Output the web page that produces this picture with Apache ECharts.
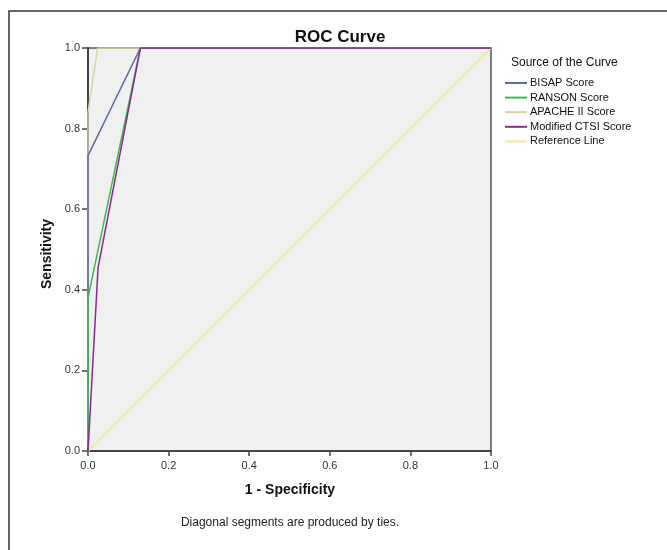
<!DOCTYPE html>
<html><head><meta charset="utf-8">
<script src="https://cdn.jsdelivr.net/npm/echarts@6/dist/echarts.min.js"></script>
<style>html,body{margin:0;padding:0;background:#fff}#c{width:667px;height:550px}</style>
</head><body><div id="c"></div>
<script>
const seriesNames = ["BISAP Score","RANSON Score","APACHE II Score","Modified CTSI Score","Reference Line"];
const bisapX = [0, 0, 0.13, 1];
const bisapY = [0, 0.733, 1, 1];
const ransonX = [0, 0, 0.13, 1];
const ransonY = [0, 0.38, 1, 1];
const apacheX = [0, 0, 0.024, 1];
const apacheY = [0, 0.84, 1, 1];
const ctsiX = [0, 0.025, 0.13, 1];
const ctsiY = [0, 0.455, 1, 1];
const refX = [0, 1];
const refY = [0, 1];
const tickValues = [0.0, 0.2, 0.4, 0.6, 0.8, 1.0];

const colors = ["#5a6aa6", "#3dbb4a", "#d9d3a6", "#8a2a8c", "#efeb95"];
const xs = [bisapX, ransonX, apacheX, ctsiX, refX];
const ys = [bisapY, ransonY, apacheY, ctsiY, refY];
const order = [4, 2, 0, 1, 3];
const font = "'Liberation Sans', Arial, sans-serif";

const series = order.map(i => ({
  name: seriesNames[i], type: 'line', symbol: 'none', z: 3,
  lineStyle: { color: colors[i], width: i === 4 ? 2 : 1.5 }, itemStyle: { color: colors[i] },
  data: xs[i].map((x, k) => [x, ys[i][k]]), animation: false
}));

const chart = echarts.init(document.getElementById('c'), null, { renderer: 'canvas' });
chart.setOption({
  animation: false,
  backgroundColor: '#fff',
  grid: { left: 88, top: 48, width: 403, height: 403, show: true, backgroundColor: '#f0f0f0', borderColor: '#555', borderWidth: 1.5 },
  xAxis: { type: 'value', min: 0, max: 1, interval: 0.2,
    axisLine: { show: true, lineStyle: { color: '#444', width: 2 } },
    axisTick: { show: true, length: 5, lineStyle: { color: '#444', width: 1.5 } },
    axisLabel: { color: '#333', fontSize: 11, fontFamily: font, margin: 9, formatter: v => v.toFixed(1) },
    splitLine: { show: false } },
  yAxis: { type: 'value', min: 0, max: 1, interval: 0.2,
    axisLine: { show: true, lineStyle: { color: '#444', width: 2 } },
    axisTick: { show: true, length: 6, lineStyle: { color: '#444', width: 1.5 } },
    axisLabel: { color: '#333', fontSize: 11, fontFamily: font, margin: 8, formatter: v => v.toFixed(1) },
    splitLine: { show: false } },
  legend: { orient: 'vertical', left: 505, top: 77, padding: 0, itemWidth: 22, itemHeight: 2, itemGap: 2.6,
    icon: 'rect', data: seriesNames,
    textStyle: { fontSize: 11, fontFamily: font, color: '#111', padding: [0, 0, 0, -2], lineHeight: 12 },
    selectedMode: false },
  graphic: [
    { type: 'rect', shape: { x: 9, y: 11, width: 700, height: 600 }, style: { fill: 'none', stroke: '#333', lineWidth: 1.5 }, silent: true, z: 0 },
    { type: 'text', style: { text: 'ROC Curve', x: 340, y: 37, font: "bold 17px 'Liberation Sans', Arial, sans-serif", fill: '#111', textAlign: 'center', textVerticalAlign: 'middle' } },
    { type: 'text', style: { text: 'Source of the Curve', x: 511, y: 63, font: "12px 'Liberation Sans', Arial, sans-serif", fill: '#111', textAlign: 'left', textVerticalAlign: 'middle' } },
    { type: 'text', style: { text: '1 - Specificity', x: 290, y: 490, font: "bold 14px 'Liberation Sans', Arial, sans-serif", fill: '#111', textAlign: 'center', textVerticalAlign: 'middle' } },
    { type: 'text', rotation: Math.PI / 2, x: 47, y: 254, style: { text: 'Sensitivity', x: 0, y: 0, font: "bold 14px 'Liberation Sans', Arial, sans-serif", fill: '#111', textAlign: 'center', textVerticalAlign: 'middle' } },
    { type: 'text', style: { text: 'Diagonal segments are produced by ties.', x: 290, y: 523, font: "12px 'Liberation Sans', Arial, sans-serif", fill: '#222', textAlign: 'center', textVerticalAlign: 'middle' } }
  ],
  series: series
});
</script></body></html>
